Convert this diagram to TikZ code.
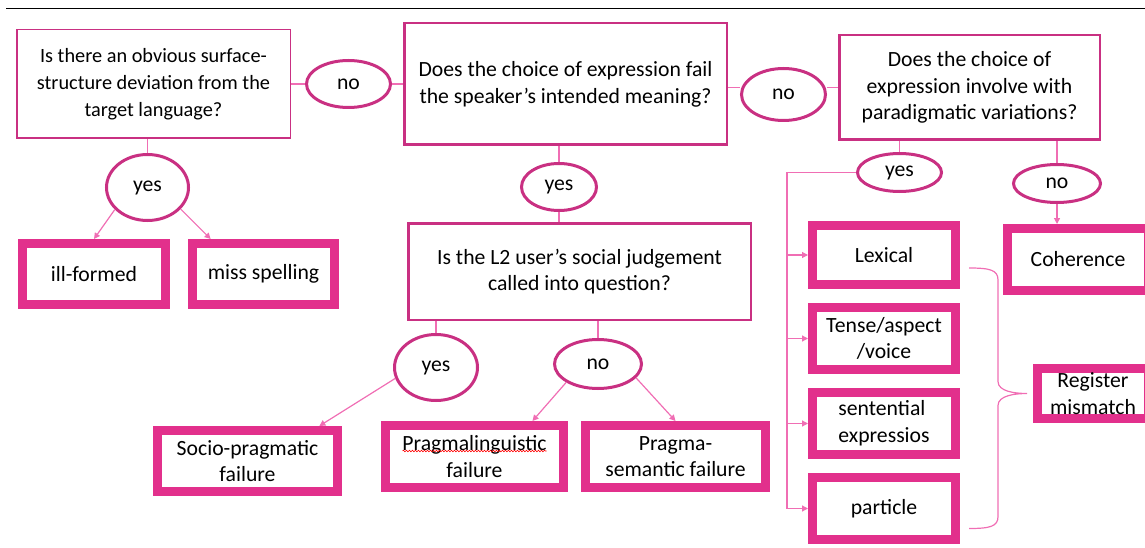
\documentclass[tikz,border=0pt]{standalone}
\usepackage{fontspec}
\setmainfont{Carlito}
\usetikzlibrary{calc,positioning,shapes.geometric,arrows.meta,decorations.pathmorphing}
\definecolor{pinkdark}{RGB}{201,48,130}
\definecolor{pinkfill}{RGB}{226,48,140}
\definecolor{pinklink}{RGB}{240,110,180}

\begin{document}
\begin{tikzpicture}[x=1pt,y=-1pt,
  font=\fontsize{21.7}{26.7}\selectfont,
  question/.style={draw=pinkdark, line width=2.5pt, align=center, inner sep=0pt},
  answer/.style={ellipse, draw=pinkdark, line width=3pt, inner sep=0pt},
  outcome/.style={draw=pinkfill, line width=9pt, outer sep=auto, fill=white, align=center, inner sep=0pt},
  link/.style={pinklink, line width=1.2pt},
  arrow/.style={link, -{Triangle[length=6pt,width=6pt]}}]
  \useasboundingbox (0,0) rectangle (1145,548);
  \draw[line width=1pt] (6,9) -- (1145,9);

  \node[question, line width=1.5pt, font=\fontsize{20.3}{26.8}\selectfont, minimum width=273.5pt, minimum height=108.5pt](Surface) at (153.5,84){Is there an obvious surface-\\structure deviation from the\\target language?};
  \node[question, minimum width=322.5pt, minimum height=121.5pt](Meaning) at (565.5,84){Does the choice of expression fail\\the speaker’s intended meaning?};
  \node[question, minimum width=260.5pt, minimum height=104.5pt](Paradigm) at (969.5,87.5){Does the choice of\\expression involve with\\paradigmatic variations?};
  \node[question, minimum width=342.5pt, minimum height=96.5pt](Social) at (579.5,271.5){Is the L2 user’s social judgement\\called into question?};

  \node[answer, minimum width=84pt, minimum height=47pt](NoA) at (348.5,84){no};
  \node[answer, minimum width=84pt, minimum height=52pt](NoB) at (783.5,94.5){no};
  \node[answer, minimum width=82pt, minimum height=66pt](YesA) at (147.5,187.5){yes};
  \node[answer, minimum width=75pt, minimum height=47pt](YesB) at (559,187){yes};
  \node[answer, minimum width=83pt, minimum height=66pt](YesC) at (436,367.5){yes};
  \node[answer, minimum width=87pt, minimum height=49pt](NoC) at (598,364){no};
  \node[answer, minimum width=84pt, minimum height=38pt](YesD) at (899.5,172.5){yes};
  \node[answer, minimum width=87pt, minimum height=38pt](NoD) at (1057,183.5){no};

  \node[outcome, minimum width=143pt, minimum height=61pt](IllFormed) at (94,274){ill-formed};
  \node[outcome, minimum width=142pt, minimum height=61pt](Spelling) at (263.5,274){miss spelling};
  \node[outcome, minimum width=180pt, minimum height=61pt](Socio) at (247.5,461){Socio-pragmatic\\failure};
  \node[outcome, minimum width=178pt, minimum height=62pt](Pragmaling) at (474.5,456.5){Pragmalinguistic\\failure};
  \node[outcome, minimum width=180pt, minimum height=62pt](Semantic) at (675.5,456.5){Pragma-\\semantic failure};
  \node[outcome, minimum width=143pt, minimum height=59pt](Lexical) at (884,255){Lexical};
  \node[outcome, minimum width=143pt, minimum height=62pt, below=14pt of Lexical](Tense){Tense/aspect\\/voice};
  \node[outcome, minimum width=143pt, minimum height=62pt, align=left, below=14pt of Tense](Sentential){sentential\\expressios};
  \node[outcome, minimum width=143pt, minimum height=62pt, below=14pt of Sentential](Particle){particle};
  \node[outcome, minimum width=141pt, minimum height=62pt](Coherence) at (1078,259.5){Coherence};
  \node[outcome, minimum width=111pt, minimum height=50pt](Register) at (1093,393.5){Register\\mismatch};

  \draw[red, line width=0.6pt, decorate, decoration={snake, amplitude=0.8pt, segment length=3pt}]
    ([xshift=-72pt,yshift=5.5pt]Pragmaling.center) -- ([xshift=72pt,yshift=5.5pt]Pragmaling.center);

  \draw[link] (Surface) -- (NoA) -- (Meaning);
  \draw[link] (Meaning.east |- Paradigm.west) -- (NoB.west |- Paradigm.west);
  \draw[link] (NoB.east |- Paradigm.west) -- (Paradigm.west);
  \draw[link] (Surface.south -| YesA) -- (YesA);
  \draw[link] (Meaning.south -| YesB) -- (YesB) -- (YesB |- Social.north);
  \draw[link] (Social.south -| YesC) -- (YesC);
  \draw[link] (Social.south -| NoC) -- (NoC);
  \draw[link] (Paradigm.south -| YesD) -- (YesD);
  \draw[link] (Paradigm.south -| NoD) -- (NoD);

  \path[arrow]
  (YesA.214) edge (IllFormed.north)
  (YesA.-33) edge ($(Spelling.north west)!0.15!(Spelling.north east)$)
  (YesC.195) edge ($(Socio.north west)!0.88!(Socio.north east)$)
  (NoC.210) edge ($(Pragmaling.north west)!0.81!(Pragmaling.north east)$)
  (NoC.-20) edge (Semantic.north)
  (NoD) edge (NoD |- Coherence.north);

  \coordinate (BusTop) at ([xshift=-21pt]Lexical.west |- YesD.west);
  \draw[link] (YesD.west) -- (BusTop) -- (BusTop |- Particle.west);
  \foreach \n in {Lexical,Tense,Sentential,Particle}
    \draw[arrow] (BusTop |- \n.west) -- (\n.west);

  \coordinate (BraceTop) at ([xshift=9pt,yshift=-13pt]Lexical.east);
  \coordinate (BraceBot) at ([xshift=9pt,yshift=-20pt]Particle.east);
  \coordinate (BraceTip) at ([xshift=-6pt]Register.west);
  \draw[link] (BraceTop) .. controls +(21,0) and +(0,-10) .. ++(29,12)
    -- ($(BraceTip)+(-29,-12)$) .. controls +(0,10) and +(-12,0) .. (BraceTip)
    .. controls +(-12,0) and +(0,-10) .. ++(-29,12)
    -- ($(BraceBot)+(29,-12)$) .. controls +(0,10) and +(21,0) .. (BraceBot);
\end{tikzpicture}
\end{document}
